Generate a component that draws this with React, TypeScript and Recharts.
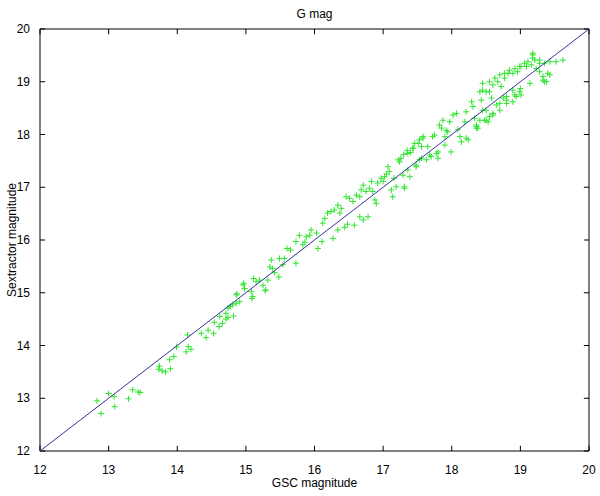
import { ScatterChart, Scatter, XAxis, YAxis, ReferenceLine } from 'recharts'

// GSC magnitude (x) and Sextractor magnitude (y)
const gscMag = [
  12.83, 13.00, 13.08, 12.89, 13.09, 13.29, 13.35, 13.43, 13.46, 13.74,
  13.73, 13.78, 13.83, 13.90, 13.89, 13.95, 13.99, 14.13, 14.16, 14.20,
  14.15, 14.35, 14.42, 14.45, 14.53, 14.54, 14.61, 14.62, 14.66, 14.71,
  14.74, 14.71, 14.74, 14.77, 14.81, 14.82, 14.86, 14.91, 14.86, 14.87,
  14.96, 14.97, 14.98, 15.08, 15.10, 15.09, 15.11, 15.15, 15.20, 15.28,
  15.29, 15.32, 15.37, 15.35, 15.39, 15.48, 15.49, 15.56, 15.54, 15.60,
  15.65, 15.73, 15.78, 15.73, 15.83, 15.88, 15.86, 15.95, 15.93, 16.05,
  16.03, 16.12, 16.15, 16.11, 16.19, 16.24, 16.29, 16.34, 16.39, 16.46,
  16.34, 16.27, 16.37, 16.58, 16.66, 16.71, 16.78, 16.51, 16.56, 16.61,
  16.66, 16.68, 16.71, 16.75, 16.80, 16.83, 16.85, 16.88, 16.90, 16.97,
  17.00, 17.02, 17.07, 17.09, 17.12, 17.14, 17.16, 17.19, 17.22, 17.26,
  17.29, 17.31, 17.36, 17.36, 17.43, 17.46, 17.51, 17.48, 17.53, 17.56,
  17.58, 17.63, 17.65, 17.70, 17.75, 17.78, 17.80, 17.82, 17.87, 17.90,
  17.92, 17.68, 17.80, 17.85, 17.90, 17.94, 17.97, 17.99, 18.02, 18.07,
  18.09, 18.12, 18.14, 18.19, 18.21, 18.24, 18.29, 18.31, 18.33, 18.36,
  18.38, 18.43, 18.45, 18.48, 18.50, 18.53, 18.55, 18.58, 18.60, 18.60,
  18.65, 18.67, 18.70, 18.72, 18.75, 18.77, 18.80, 18.82, 19.18, 19.18,
  19.28, 19.35, 19.43, 19.52, 19.62, 19.16, 19.09, 19.01, 18.96, 18.89,
  19.23, 19.28, 19.33, 19.43, 19.35, 19.14, 19.00, 19.01, 18.92, 18.89,
  18.80, 19.18, 19.33, 19.38, 19.40, 17.24, 17.31, 17.39, 17.48, 17.53,
  17.56, 17.44, 17.58, 17.72, 18.21, 18.36, 18.41, 18.45, 18.55, 18.36,
  18.50, 18.60, 18.70, 18.80, 18.89, 18.94, 18.99, 18.41, 18.45, 18.55,
  18.63, 18.70, 18.77, 18.84, 18.92, 18.99, 19.06, 19.11, 19.21, 19.28,
  18.50, 17.30, 17.35, 17.40, 16.44, 16.48, 15.25, 15.42, 16.92, 17.05,
]
const sexMag = [
  12.95, 13.09, 13.03, 12.71, 12.84, 12.99, 13.16, 13.12, 13.11, 13.61,
  13.55, 13.52, 13.50, 13.56, 13.73, 13.79, 13.97, 13.88, 13.98, 13.93,
  14.20, 14.23, 14.15, 14.29, 14.23, 14.44, 14.36, 14.55, 14.42, 14.50,
  14.71, 14.61, 14.53, 14.74, 14.77, 14.56, 14.80, 14.83, 14.96, 14.98,
  15.15, 15.18, 15.08, 15.02, 14.93, 14.89, 15.27, 15.21, 15.24, 15.04,
  15.05, 15.24, 15.62, 15.49, 15.46, 15.30, 15.65, 15.65, 15.53, 15.84,
  15.81, 15.56, 16.09, 15.97, 15.91, 16.06, 15.96, 16.19, 16.09, 15.84,
  16.13, 16.32, 16.41, 15.97, 16.51, 16.54, 16.57, 16.66, 16.60, 16.82,
  16.19, 16.03, 16.51, 16.28, 16.44, 16.38, 16.44, 16.79, 16.73, 16.85,
  16.82, 16.95, 17.04, 16.92, 16.98, 17.11, 16.92, 16.76, 16.69, 17.17,
  17.11, 17.20, 17.39, 17.30, 16.95, 16.82, 17.17, 17.01, 17.52, 17.55,
  17.23, 16.98, 17.33, 17.64, 17.74, 17.83, 17.83, 17.42, 17.90, 17.55,
  17.96, 17.52, 17.77, 17.58, 17.99, 17.64, 17.55, 18.18, 18.27, 17.96,
  18.08, 17.61, 17.67, 18.12, 17.80, 18.05, 18.24, 17.67, 18.37, 18.40,
  18.09, 17.96, 17.86, 18.24, 18.43, 17.90, 18.62, 18.53, 18.31, 18.18,
  18.12, 18.65, 18.84, 18.27, 18.46, 18.24, 18.81, 18.69, 18.37, 18.94,
  18.56, 19.00, 18.46, 18.91, 18.69, 19.07, 18.59, 19.16, 19.51, 19.45,
  19.41, 19.35, 19.38, 19.38, 19.41, 19.32, 19.29, 19.29, 19.19, 19.16,
  19.25, 19.19, 19.10, 19.13, 19.00, 18.97, 18.87, 18.75, 18.75, 18.62,
  18.72, 19.54, 19.03, 19.00, 19.16, 17.48, 17.01, 17.20, 17.39, 17.52,
  17.77, 17.74, 17.93, 17.96, 17.93, 18.12, 18.27, 18.46, 18.34, 18.15,
  18.27, 18.40, 18.59, 18.65, 18.84, 18.72, 18.81, 18.81, 18.97, 19.00,
  19.07, 19.13, 19.16, 19.22, 19.25, 19.29, 19.35, 19.38, 19.41, 19.35,
  18.81, 17.62, 17.70, 17.66, 16.24, 16.30, 15.14, 15.38, 17.08, 17.25,
]
const axisTicks = [12, 13, 14, 15, 16, 17, 18, 19, 20]
const identityEnds = [12, 20]

const points = gscMag.map((g, i) => ({ gsc: g, sex: sexMag[i] }))
const diagonal = identityEnds.map(v => ({ gsc: v, sex: v }))

const FONT = '"Liberation Sans", Arial, Helvetica, sans-serif'
const LO = 12
const HI = 20
// inward tick length, in data units (about 5px each way)
const TX = 0.075
const TY = 0.1

const Plus = ({ cx, cy }: any) => (
  <g stroke="#2fe52f" strokeWidth={1}>
    <line x1={cx - 3} y1={cy} x2={cx + 3} y2={cy} />
    <line x1={cx} y1={cy - 3} x2={cx} y2={cy + 3} />
  </g>
)

const NoDot = () => <g />

const BottomTick = ({ x, y, payload }: any) => (
  <text x={x} y={y + 15} textAnchor="middle" fontSize={12} fill="#000" fontFamily={FONT}>
    {payload.value}
  </text>
)

const LeftTick = ({ x, y, payload }: any) => (
  <text x={x - 2} y={y + 4} textAnchor="end" fontSize={12} fill="#000" fontFamily={FONT}>
    {payload.value}
  </text>
)

export default function App() {
  const frame = { stroke: '#000', strokeWidth: 1, ifOverflow: 'visible' as const }
  return (
    <div style={{ position: 'absolute', left: 0, top: 0, width: 600, height: 496, background: '#fff' }}>
      <ScatterChart width={600} height={496} margin={{ top: 29, right: 11, bottom: 0, left: 0 }}>
        <XAxis
          dataKey="gsc"
          type="number"
          domain={[LO, HI]}
          ticks={axisTicks}
          interval={0}
          height={45}
          tickLine={false}
          tick={<BottomTick />}
          axisLine={{ stroke: '#000' }}
          label={{ value: 'GSC magnitude', position: 'insideBottom', offset: 9, fontSize: 12, fill: '#000', fontFamily: FONT }}
        />
        <YAxis
          dataKey="sex"
          type="number"
          domain={[LO, HI]}
          ticks={axisTicks}
          interval={0}
          width={40}
          tickLine={false}
          tick={<LeftTick />}
          axisLine={{ stroke: '#000' }}
          label={{ value: 'Sextractor magnitude', angle: -90, position: 'center', dx: -8, fontSize: 12, fill: '#000', fontFamily: FONT }}
        />
        <ReferenceLine y={HI} {...frame} />
        <ReferenceLine x={HI} {...frame} />
        {axisTicks.map(t => (
          <ReferenceLine key={'b' + t} segment={[{ x: t, y: LO }, { x: t, y: LO + TY }]} {...frame} />
        ))}
        {axisTicks.map(t => (
          <ReferenceLine key={'t' + t} segment={[{ x: t, y: HI }, { x: t, y: HI - TY }]} {...frame} />
        ))}
        {axisTicks.map(t => (
          <ReferenceLine key={'l' + t} segment={[{ x: LO, y: t }, { x: LO + TX, y: t }]} {...frame} />
        ))}
        {axisTicks.map(t => (
          <ReferenceLine key={'r' + t} segment={[{ x: HI, y: t }, { x: HI - TX, y: t }]} {...frame} />
        ))}
        <Scatter data={points} shape={<Plus />} isAnimationActive={false} />
        <Scatter
          data={diagonal}
          line={{ stroke: '#33339a', strokeWidth: 1 }}
          lineType="joint"
          shape={<NoDot />}
          isAnimationActive={false}
        />
      </ScatterChart>
      <div
        style={{
          position: 'absolute', left: 40, top: 7, width: 549, textAlign: 'center',
          fontFamily: FONT, fontSize: 12, color: '#000', lineHeight: '14px',
        }}
      >
        G mag
      </div>
    </div>
  )
}
